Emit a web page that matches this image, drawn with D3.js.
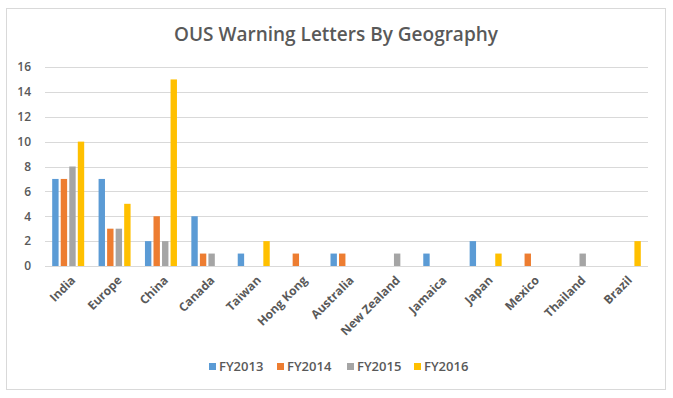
<!DOCTYPE html>
<html>
<head>
<meta charset="utf-8">
<script src="https://cdn.jsdelivr.net/npm/d3@7"></script>
<style>
  body { margin: 0; background: #fff; }
  text { font-family: "Open Sans", "DejaVu Sans", sans-serif; fill: #595959; }
</style>
</head>
<body>
<div id="chart"></div>
<script>
const countries = ["India", "Europe", "China", "Canada", "Taiwan", "Hong Kong", "Australia",
  "New Zealand", "Jamaica", "Japan", "Mexico", "Thailand", "Brazil"];
const years = ["FY2013", "FY2014", "FY2015", "FY2016"];
const fy2013 = [7, 7, 2, 4, 1, 0, 1, 0, 1, 2, 0, 0, 0];
const fy2014 = [7, 3, 4, 1, 0, 1, 1, 0, 0, 0, 1, 0, 0];
const fy2015 = [8, 3, 2, 1, 0, 0, 0, 1, 0, 0, 0, 1, 0];
const fy2016 = [10, 5, 15, 0, 2, 0, 0, 0, 0, 1, 0, 0, 2];
const yTicks = [0, 2, 4, 6, 8, 10, 12, 14, 16];
const colors = ["#5B9BD5", "#ED7D31", "#A5A5A5", "#FFC000"];

const series = [fy2013, fy2014, fy2015, fy2016];
const W = 673, H = 398;

const svg = d3.select("#chart").append("svg")
  .attr("width", W).attr("height", H);

// chart frame
svg.append("rect")
  .attr("x", 6.5).attr("y", 8.5).attr("width", 659).attr("height", 381)
  .attr("fill", "#fff").attr("stroke", "#d9d9d9");

svg.append("text")
  .attr("x", 336).attr("y", 41)
  .attr("text-anchor", "middle")
  .style("font-size", "19px")
  .style("font-weight", "600")
  .text("OUS Warning Letters By Geography");

const x = d3.scaleBand().domain(countries).range([45, 648]);
const y = d3.scaleLinear().domain([0, 16]).range([266, 67]);
const xs = d3.scaleBand().domain(years).range([0, 32]).paddingInner(0.25);

// gridlines
svg.append("g")
  .selectAll("line")
  .data(yTicks)
  .join("line")
  .attr("x1", 45).attr("x2", 648)
  .attr("y1", d => Math.round(y(d)) + 0.5)
  .attr("y2", d => Math.round(y(d)) + 0.5)
  .attr("stroke", "#d9d9d9");

const yAxis = svg.append("g")
  .attr("transform", "translate(45,0)")
  .call(d3.axisLeft(y).tickValues(yTicks).tickSize(0).tickPadding(14));
yAxis.select(".domain").remove();
yAxis.selectAll("text").style("font-size", "12px").style("fill", "#595959")
  .style("font-family", "Open Sans, sans-serif").style("font-weight", "600");

// bars
const groups = svg.append("g")
  .selectAll("g")
  .data(countries)
  .join("g")
  .attr("transform", d => `translate(${x(d) + x.bandwidth() / 2 - 16},0)`);

groups.selectAll("rect")
  .data((c, i) => series.map((s, k) => ({ year: years[k], v: s[i], k })))
  .join("rect")
  .attr("x", d => xs(d.year))
  .attr("width", xs.bandwidth())
  .attr("y", d => y(d.v))
  .attr("height", d => y(0) - y(d.v))
  .attr("fill", d => colors[d.k]);

// x labels
const xAxis = svg.append("g")
  .attr("transform", "translate(0,266)")
  .call(d3.axisBottom(x).tickSize(0).tickPadding(0));
xAxis.select(".domain").remove();
xAxis.selectAll("text")
  .attr("text-anchor", "end")
  .attr("transform", "translate(2,9) rotate(-45)")
  .attr("dy", "0.71em")
  .style("font-size", "12px")
  .style("font-weight", "bold")
  .style("fill", "#595959")
  .style("font-family", "Open Sans, sans-serif");

// legend
const legendX = [209, 277, 347, 414];
const legend = svg.append("g")
  .selectAll("g")
  .data(years)
  .join("g")
  .attr("transform", (d, i) => `translate(${legendX[i]},363)`);
legend.append("rect").attr("width", 7).attr("height", 7)
  .attr("fill", (d, i) => colors[i]);
legend.append("text").attr("x", 10).attr("y", 8)
  .style("font-size", "13px")
  .style("font-weight", "600")
  .text(d => d);
</script>
</body>
</html>
